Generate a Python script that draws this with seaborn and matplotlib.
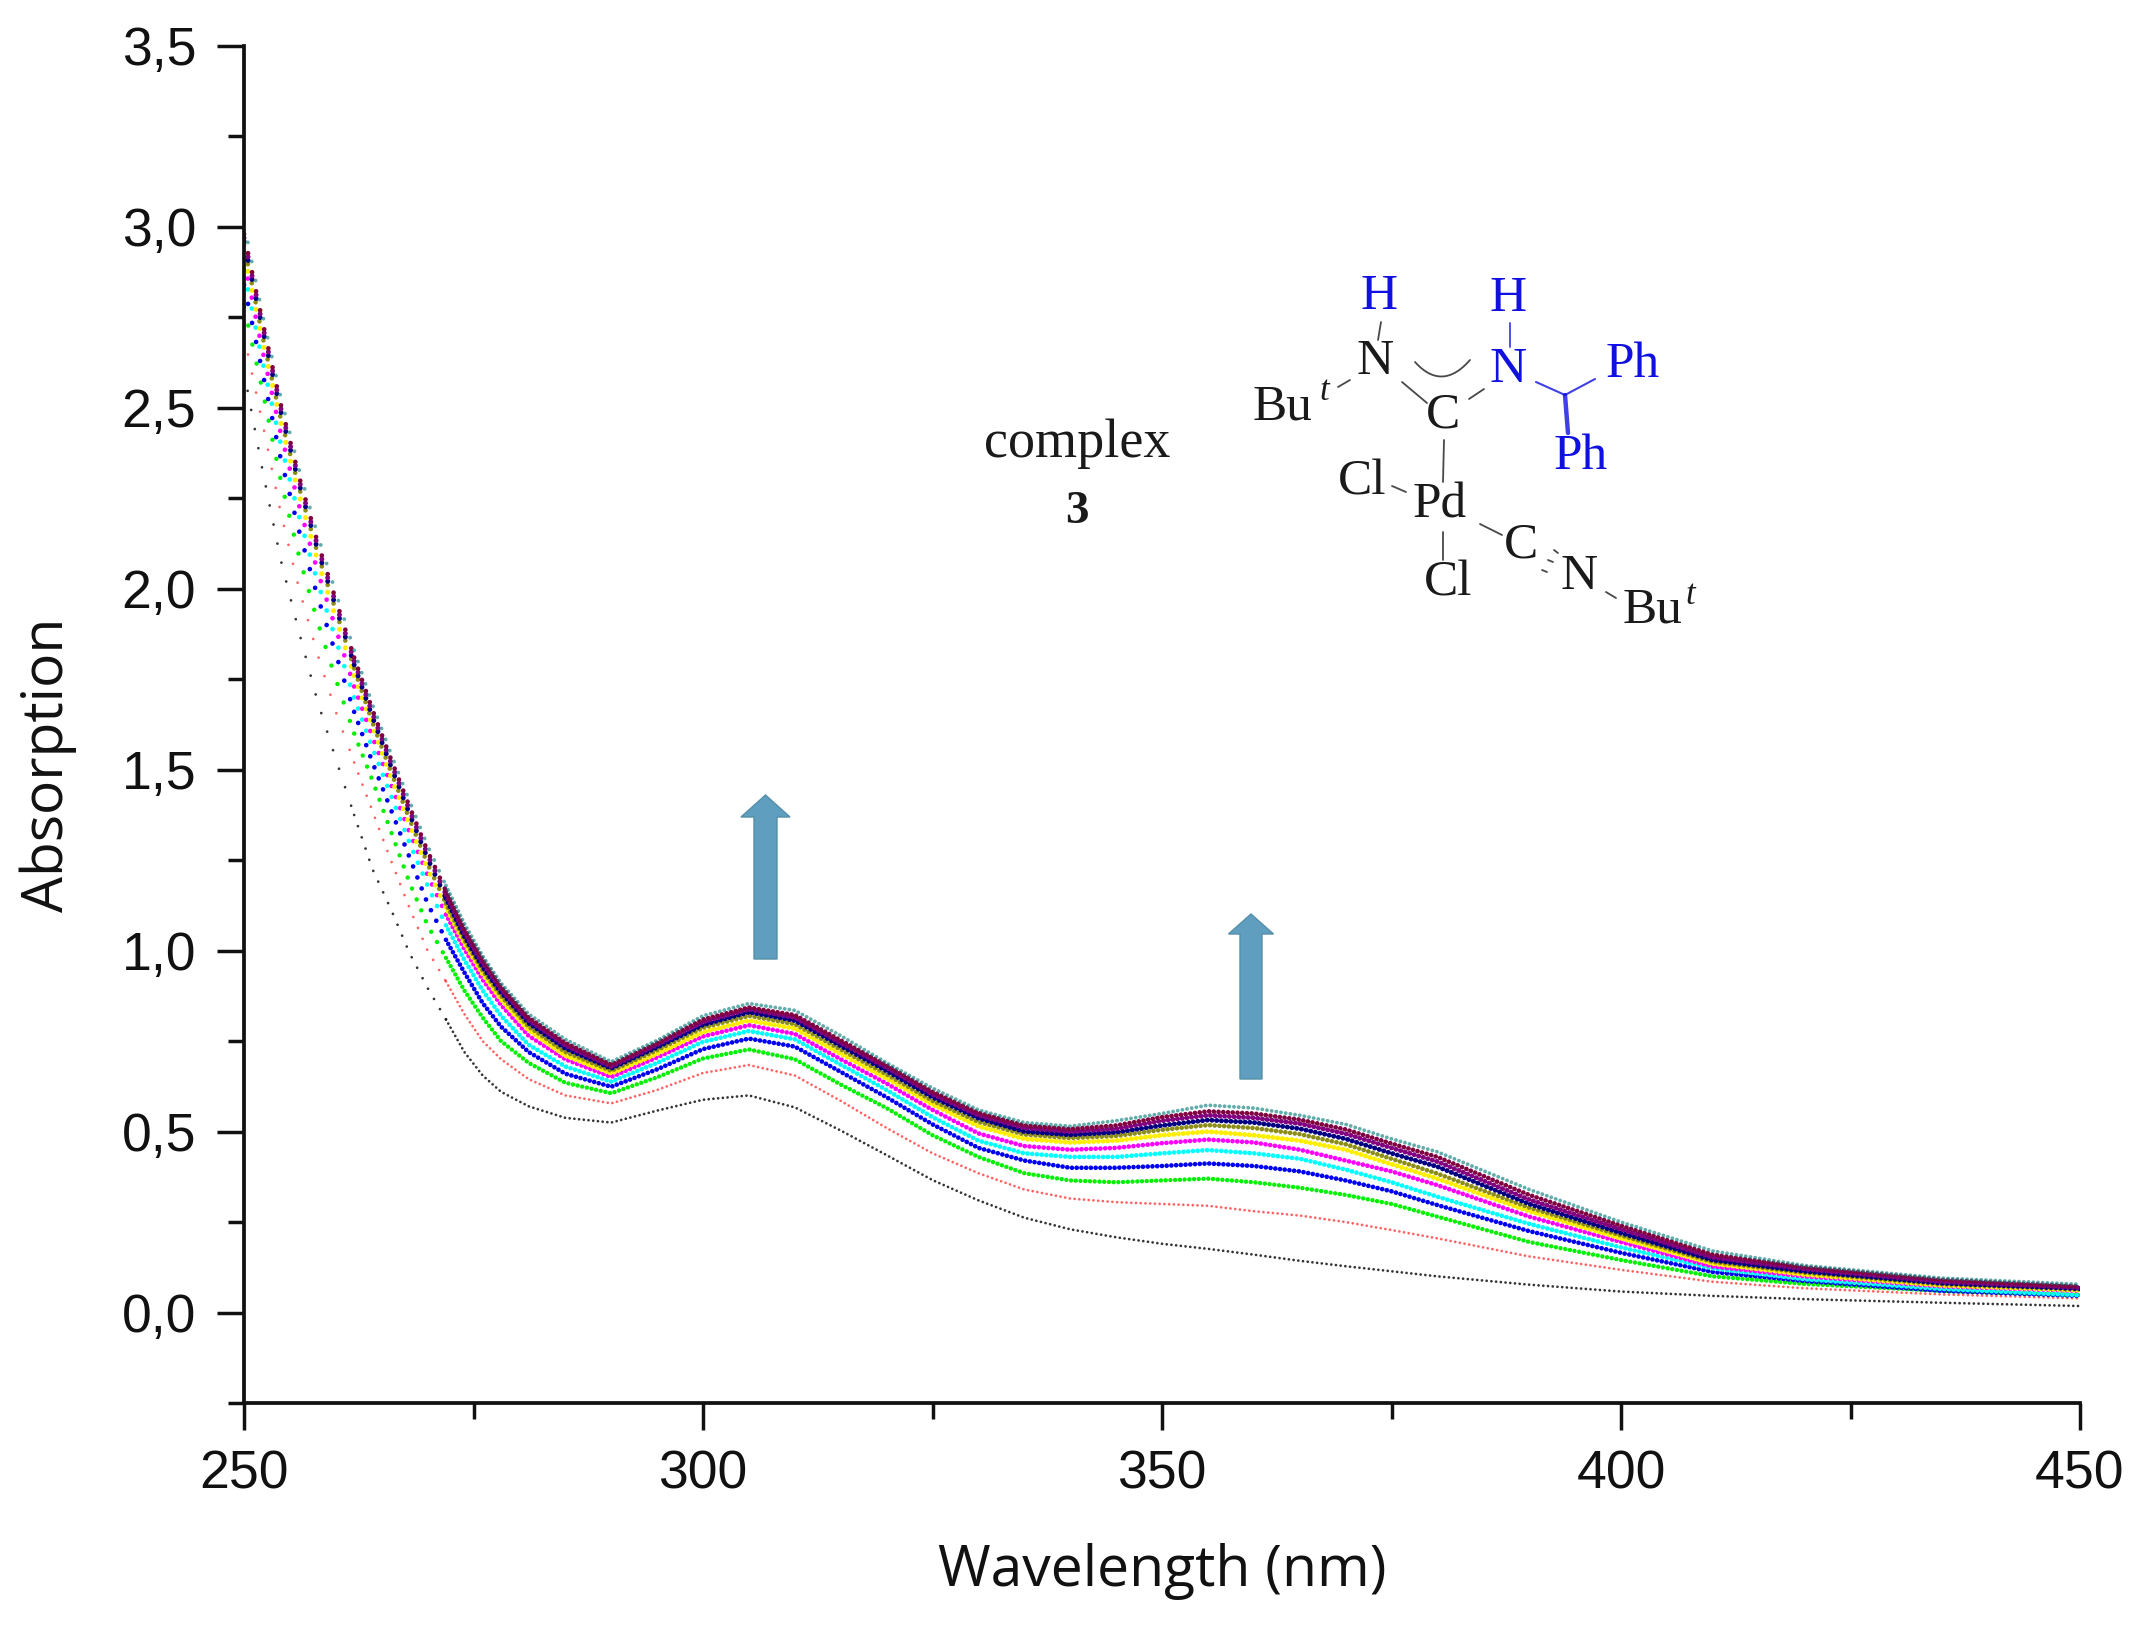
import numpy as np
import matplotlib
matplotlib.use("Agg")
import matplotlib.pyplot as plt
import seaborn as sns
from matplotlib.patches import Polygon
from matplotlib.ticker import MultipleLocator

# ── Data ────────────────────────────────────────────────────
wavelength = [250, 252, 254, 256, 258, 260, 262, 264, 266, 268, 270, 272, 274, 276, 278, 281, 285,
              290, 295, 300, 305, 310, 315, 320, 325, 330, 335, 340, 345, 350, 355, 360, 365, 370,
              375, 380, 390, 400, 410, 420, 435, 450]

black = [2.60, 2.33, 2.08, 1.88, 1.69, 1.53, 1.375, 1.225, 1.115, .995, .897, .81, .72, .655, .61, .57, .538,
         .525, .558, .588, .60, .567, .503, .435, .366, .31, .262, .23, .208, .19, .176, .16, .143, .128,
         .114, .10, .077, .058, .046, .037, .027, .018]
red = [2.70, 2.46, 2.21, 2.00, 1.82, 1.66, 1.52, 1.385, 1.25, 1.12, 1.00, .915, .825, .75, .70, .645, .60,
       .578, .615, .662, .684, .655, .585, .51, .44, .385, .34, .315, .305, .30, .295, .28, .268, .25,
       .228, .205, .155, .118, .085, .067, .05, .039]
green = [2.78, 2.55, 2.30, 2.09, 1.91, 1.75, 1.60, 1.47, 1.33, 1.19, 1.07, .98, .89, .815, .75, .69, .635,
         .606, .65, .702, .727, .70, .63, .565, .49, .43, .385, .365, .36, .365, .37, .36, .345, .325,
         .30, .265, .195, .145, .10, .079, .06, .048]
blue = [2.84, 2.60, 2.36, 2.16, 1.98, 1.82, 1.66, 1.52, 1.39, 1.26, 1.13, 1.03, .94, .855, .79, .72, .66,
        .624, .672, .728, .757, .735, .665, .595, .52, .455, .42, .40, .40, .405, .412, .405, .39, .365,
        .335, .297, .225, .165, .112, .087, .06, .046]
cyan = [2.88, 2.63, 2.40, 2.20, 2.02, 1.86, 1.70, 1.56, 1.43, 1.30, 1.18, 1.07, .975, .89, .82, .74, .68,
        .638, .69, .748, .778, .755, .685, .615, .54, .475, .44, .43, .43, .44, .449, .44, .425, .395,
        .36, .32, .245, .18, .122, .092, .065, .048]
magenta = [2.91, 2.66, 2.43, 2.23, 2.05, 1.89, 1.73, 1.59, 1.46, 1.33, 1.21, 1.10, 1.005, .92, .85, .765, .70,
           .651, .705, .763, .794, .77, .70, .633, .56, .495, .46, .45, .455, .468, .478, .47, .45, .42,
           .39, .352, .265, .195, .127, .10, .072, .06]
yellow = [2.93, 2.69, 2.46, 2.26, 2.08, 1.92, 1.76, 1.62, 1.48, 1.35, 1.225, 1.12, 1.02, .935, .865, .78, .71,
          .661, .715, .775, .807, .785, .715, .647, .575, .515, .48, .47, .475, .49, .50, .49, .475, .45,
          .41, .37, .28, .205, .135, .105, .075, .062]
olive = [2.95, 2.70, 2.47, 2.28, 2.10, 1.94, 1.78, 1.63, 1.495, 1.365, 1.24, 1.13, 1.03, .945, .875, .79, .72,
         .668, .725, .787, .82, .797, .727, .658, .585, .527, .492, .482, .488, .505, .518, .51, .493, .465,
         .425, .384, .29, .213, .14, .11, .078, .064]
navy = [2.96, 2.72, 2.49, 2.29, 2.11, 1.95, 1.79, 1.645, 1.51, 1.38, 1.255, 1.145, 1.04, .955, .885, .80, .73,
        .675, .733, .795, .83, .807, .737, .668, .595, .537, .50, .491, .498, .517, .532, .525, .508, .48,
        .44, .403, .30, .22, .145, .114, .081, .066]
purple = [2.97, 2.73, 2.50, 2.30, 2.12, 1.96, 1.80, 1.655, 1.52, 1.39, 1.265, 1.155, 1.05, .965, .893, .808, .738,
          .68, .74, .803, .838, .815, .745, .677, .603, .545, .51, .50, .508, .53, .545, .538, .522, .494,
          .455, .417, .312, .23, .152, .12, .085, .069]
wine = [2.98, 2.74, 2.51, 2.31, 2.13, 1.97, 1.81, 1.665, 1.53, 1.40, 1.275, 1.165, 1.06, .975, .90, .815, .745,
        .685, .745, .81, .843, .822, .752, .683, .61, .552, .517, .507, .517, .54, .556, .55, .533, .506,
        .467, .43, .325, .24, .16, .125, .09, .072]
teal = [3.01, 2.76, 2.53, 2.33, 2.15, 1.99, 1.83, 1.68, 1.545, 1.415, 1.29, 1.18, 1.075, .985, .91, .825, .755,
        .693, .752, .82, .854, .835, .765, .69, .62, .56, .525, .515, .53, .55, .573, .565, .545, .52,
        .48, .444, .34, .25, .17, .13, .095, .078]

# ── Style ───────────────────────────────────────────────────
sns.set_theme(style="ticks")
plt.rcParams["font.family"] = ["Liberation Sans", "DejaVu Sans"]
plt.rcParams["lines.scale_dashes"] = False

fig = plt.figure(figsize=(21.44, 16.29), dpi=100)
ax = fig.add_axes([244 / 2144, 1 - 1403 / 1629, (2080 - 244) / 2144, (1403 - 46) / 1629])

# colour, dot size, alpha; black is drawn first, teal last
traces = [(black, "#111111", 2.0, 0.85), (red, "#ff2020", 2.0, 0.7), (green, "#00f000", 3.2, 1.0),
          (blue, "#0000f0", 3.4, 1.0), (cyan, "#00ffff", 3.4, 1.0), (magenta, "#ff00ff", 3.4, 1.0),
          (yellow, "#ffee00", 3.6, 1.0), (olive, "#808000", 3.4, 0.9), (navy, "#000080", 3.6, 1.0),
          (purple, "#800080", 3.6, 1.0), (wine, "#800040", 3.4, 1.0), (teal, "#108080", 2.8, 0.65)]

# dots sit far apart on the steep flank and run together further right
wl = np.array(wavelength)
bands = [(250, 262, 14.0), (262, 272, 8.5), (272, 450, 3.4)]

for values, color, size, alpha in traces:
    values = np.array(values)
    for lo, hi, gap in bands:
        m = (wl >= lo) & (wl <= hi)
        sns.lineplot(x=wl[m], y=values[m], ax=ax, color=color, alpha=alpha, linewidth=size,
                     linestyle=(0, (0.01, gap)), dash_capstyle="round", estimator=None,
                     errorbar=None, legend=False)

ax.set_xlim(250, 450)
ax.set_ylim(-0.25, 3.5)
ax.xaxis.set_major_locator(MultipleLocator(50))
ax.xaxis.set_minor_locator(MultipleLocator(25))
ax.yaxis.set_major_locator(MultipleLocator(0.5))
ax.yaxis.set_minor_locator(MultipleLocator(0.25))
ax.set_yticks(np.arange(0, 3.6, 0.5))
ax.set_yticklabels(["0,0", "0,5", "1,0", "1,5", "2,0", "2,5", "3,0", "3,5"])
ax.tick_params(which="major", length=19.5, width=2.5, labelsize=38.5, color="#111111", labelcolor="#111111")
ax.tick_params(which="minor", length=11.5, width=2.5, color="#111111")
ax.tick_params(axis="y", which="major", pad=15)
ax.tick_params(axis="x", which="major", pad=14)
ax.set_xlabel("")
ax.set_ylabel("")
sns.despine(ax=ax)
for side in ["left", "bottom"]:
    ax.spines[side].set_linewidth(2.7)
    ax.spines[side].set_color("#111111")

# ── Overlay in image pixels ─────────────────────────────────
ov = fig.add_axes([0, 0, 1, 1])
ov.set_xlim(0, 2144)
ov.set_ylim(1629, 0)
ov.axis("off")
ov.patch.set_alpha(0)

ov.text(1162, 1572, "Wavelength (nm)", family="Open Sans", fontsize=41, ha="center", va="center", color="#111111")
ov.text(48, 765, "Absorption", family="Open Sans", fontsize=41, rotation=90, ha="center", va="center", color="#111111")

# arrows
arrow_color = "#5f9ebf"
for cx, half, bottom, base, tip, head in [(765.5, 11.5, 959, 817, 795, 24.5), (1251, 11, 1079, 934, 914, 22.5)]:
    ov.add_patch(Polygon([(cx - half, bottom), (cx + half, bottom), (cx + half, base), (cx + head, base),
                          (cx, tip), (cx - head, base), (cx - half, base)],
                         closed=True, facecolor=arrow_color, edgecolor="#558fa8", linewidth=1))

# structure labels
serif = "Liberation Serif"
ink = "#1a1a1a"
chem_blue = "#1010e0"
ov.text(1077, 444, "complex", family=serif, fontsize=39, ha="center", va="center", color=ink)
ov.text(1077, 512, "3", family=serif, fontsize=34, fontweight="bold", ha="center", va="center", color=ink)

for x, y, label, col in [(1379, 297, "H", chem_blue), (1508, 299, "H", chem_blue), (1375, 362, "N", ink),
                         (1508, 370, "N", chem_blue), (1633, 365, "Ph", chem_blue), (1283, 407, "Bu", ink),
                         (1443, 415, "C", ink), (1581, 457, "Ph", chem_blue), (1362, 482, "Cl", ink),
                         (1440, 505, "Pd", ink), (1521, 545, "C", ink), (1579, 577, "N", ink),
                         (1448, 583, "Cl", ink), (1653, 610, "Bu", ink)]:
    ov.text(x, y, label, family=serif, fontsize=37, ha="center", va="center", color=col)
ov.text(1324, 391, "t", family=serif, style="italic", fontsize=25, ha="center", va="center", color=ink)
ov.text(1690, 595, "t", family=serif, style="italic", fontsize=25, ha="center", va="center", color=ink)

# bonds
for x0, y0, x1, y1, col, lw in [(1381, 322, 1378, 340, ink, 1.3), (1510, 323, 1510, 347, chem_blue, 1.3),
                                (1338, 387, 1350, 380, ink, 1.3), (1402, 382, 1427, 403, ink, 1.3),
                                (1469, 399, 1484, 389, ink, 1.3), (1536, 382, 1565, 395, chem_blue, 1.5),
                                (1565, 395, 1595, 379, chem_blue, 1.5), (1565, 395, 1568, 433, chem_blue, 3.2),
                                (1444, 440, 1443, 482, ink, 1.3), (1392, 486, 1406, 492, ink, 1.3),
                                (1443, 532, 1443, 560, ink, 1.3), (1480, 524, 1502, 535, ink, 1.3),
                                (1554, 550, 1558, 553, ink, 1.3), (1548, 560, 1553, 562, ink, 1.3),
                                (1542, 570, 1547, 572, ink, 1.3), (1606, 592, 1616, 598, ink, 1.3)]:
    ov.plot([x0, x1], [y0, y1], color=col, linewidth=lw, alpha=0.8, solid_capstyle="round")

# small arc between the two nitrogens
t = np.linspace(0, 1, 20)
ov.plot((1 - t) ** 2 * 1415 + 2 * t * (1 - t) * 1442 + t ** 2 * 1470,
        (1 - t) ** 2 * 362 + 2 * t * (1 - t) * 392 + t ** 2 * 360, color=ink, linewidth=1.3, alpha=0.8)

fig.savefig("out.png", dpi=100, facecolor="white")
